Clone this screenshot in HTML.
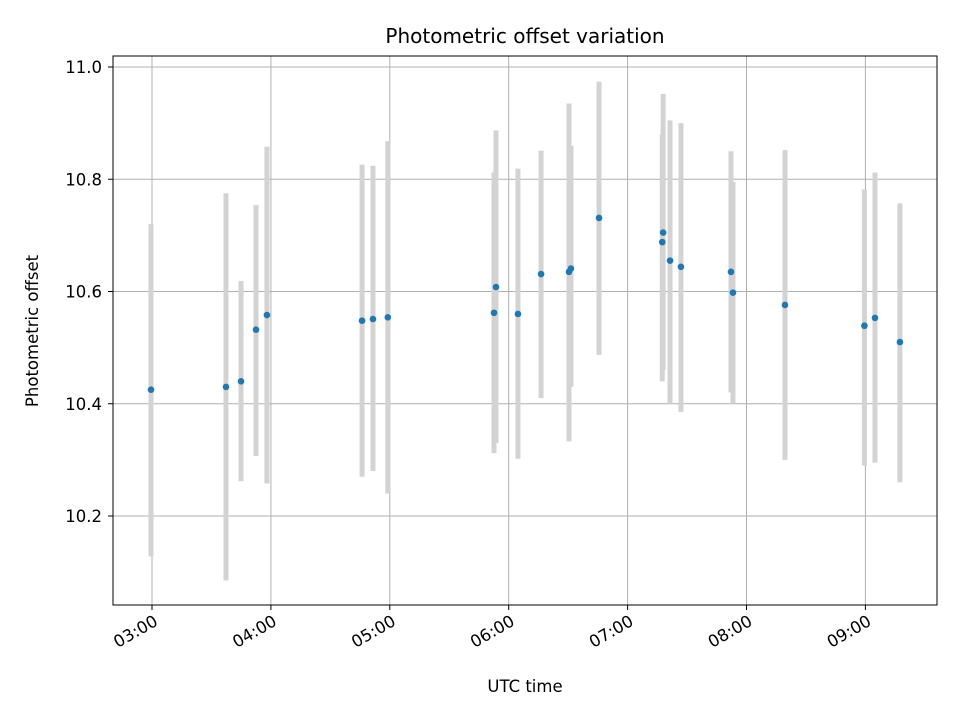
<!DOCTYPE html>
<html><head><meta charset="utf-8"><style>
body{margin:0;background:#fff}
text{font-family:"DejaVu Sans","Liberation Sans",sans-serif;fill:#000}
</style></head><body>
<svg id="chart" width="960" height="720" xmlns="http://www.w3.org/2000/svg">
<rect width="960" height="720" fill="#fff"/>
<g id="grid"></g>
<g id="bars"></g>
<g id="pts"></g>
<rect x="113" y="56" width="824" height="549" fill="none" stroke="#000" stroke-width="1"/>
<g id="axes"></g>
<text x="525" y="43" text-anchor="middle" font-size="20">Photometric offset variation</text>
<text x="525" y="692" text-anchor="middle" font-size="16.5">UTC time</text>
<text transform="translate(38,331) rotate(-90)" text-anchor="middle" font-size="16.5">Photometric offset</text>
</svg>
<script>
const times=["02:59:30","03:37:20","03:44:55","03:52:30","03:58:00","04:46:00","04:51:30","04:59:00","05:52:35","05:53:35","06:04:40","06:16:20","06:30:25","06:31:25","06:45:35","07:17:55","07:17:30","07:21:25","07:26:55","07:52:10","07:53:10","08:19:25","08:59:30","09:04:50","09:17:25"];
const values=[10.425,10.43,10.44,10.532,10.558,10.548,10.551,10.554,10.562,10.608,10.56,10.631,10.635,10.641,10.731,10.705,10.688,10.655,10.644,10.635,10.598,10.576,10.539,10.553,10.51];
const lows=[10.128,10.085,10.262,10.307,10.258,10.27,10.28,10.24,10.312,10.33,10.302,10.41,10.333,10.43,10.487,10.46,10.44,10.40,10.385,10.42,10.40,10.30,10.29,10.295,10.26];
const highs=[10.72,10.775,10.619,10.754,10.858,10.826,10.824,10.868,10.812,10.887,10.819,10.851,10.935,10.86,10.974,10.952,10.88,10.905,10.90,10.85,10.795,10.852,10.782,10.812,10.757];
const yTicks=[10.2,10.4,10.6,10.8,11.0];
const xTicks=["03:00","04:00","05:00","06:00","07:00","08:00","09:00"];
const NS="http://www.w3.org/2000/svg";
function mins(s){const p=s.split(":").map(Number);return p[0]*60+p[1]+(p[2]||0)/60;}
function X(m){return 152+(m-180)*118.9/60;}
function Y(v){return 67+(11.0-v)*561.25;}
function mk(tag,attrs,parent){const e=document.createElementNS(NS,tag);for(const k in attrs)e.setAttribute(k,attrs[k]);document.getElementById(parent).appendChild(e);return e;}
yTicks.forEach(t=>{const y=Y(t);
 const g=mk("line",{x1:113,x2:937,y1:y,y2:y,stroke:"#b0b0b0","stroke-width":1},"grid");
 
 
 const tk=mk("line",{x1:108,x2:113,y1:y,y2:y,stroke:"#000"},"axes");
 
 
 const l=mk("text",{x:102,y:y+6,"text-anchor":"end","font-size":16.5},"axes");
 l.textContent=t.toFixed(1);
 
 
});
xTicks.forEach(t=>{const x=X(mins(t));
 const g=mk("line",{x1:x,x2:x,y1:56,y2:605,stroke:"#b0b0b0","stroke-width":1},"grid");
 
 
 const tk=mk("line",{x1:x,x2:x,y1:605,y2:610,stroke:"#000"},"axes");
 
 
 const l=mk("text",{transform:`translate(${x+1},614) rotate(-30)`,"text-anchor":"end","font-size":16.5,y:12},"axes");
 l.textContent=t;
 
 
});
times.forEach((t,i)=>{const x=X(mins(t));
 const b=mk("line",{x1:x,x2:x,y1:Y(lows[i]),y2:Y(highs[i]),stroke:"#d3d3d3","stroke-width":5},"bars");
 
 
});
times.forEach((t,i)=>{const x=X(mins(t));
 const c=mk("circle",{cx:x,cy:Y(values[i]),r:3.3,fill:"#1f77b4"},"pts");
 
 
});
</script>
</body></html>
